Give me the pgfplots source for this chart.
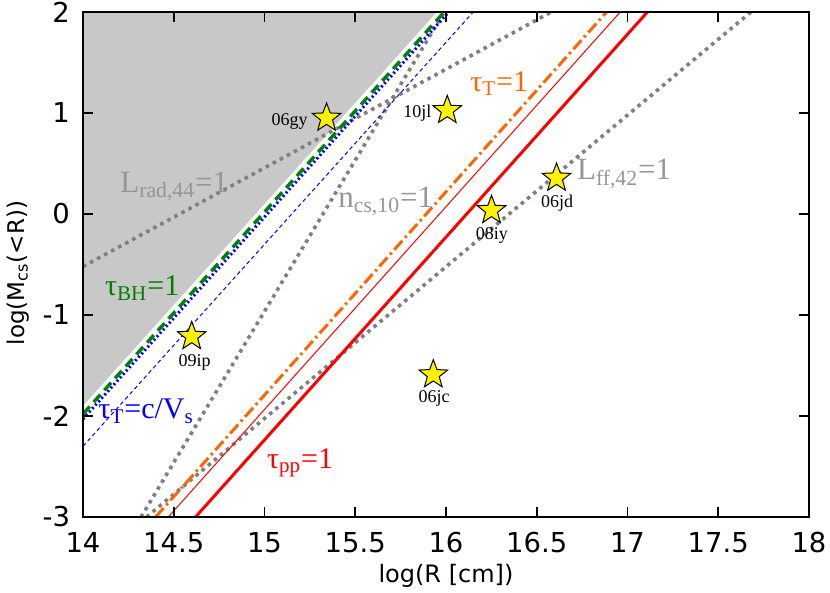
\documentclass[border=0pt]{standalone}
\usepackage{fontspec}
\setmainfont{DejaVu Sans}
\newfontfamily\tms{Liberation Serif}
\usepackage{pgfplots}
\pgfplotsset{compat=1.18}
\definecolor{shade}{RGB}{200,200,200}
\definecolor{dgreen}{RGB}{0,128,0}
\definecolor{orng}{RGB}{255,102,0}
\definecolor{lgray}{RGB}{128,128,128}
\definecolor{tgray}{RGB}{150,150,150}
\tikzset{sl/.style={font=\tms\fontsize{9}{10}\selectfont, inner sep=0pt},
  cl/.style={font=\tms\fontsize{15}{16}\selectfont, anchor=base west, inner sep=0pt},
  gl/.style={tgray, font=\tms\fontsize{15.5}{16}\selectfont, anchor=base west, inner sep=0pt}}
\pgfdeclareplotmark{fstar}{%
 \pgfpathmoveto{\pgfpointpolar{90}{\pgfplotmarksize}}%
 \pgfpathlineto{\pgfpointpolar{126}{0.42\pgfplotmarksize}}%
 \pgfpathlineto{\pgfpointpolar{162}{\pgfplotmarksize}}%
 \pgfpathlineto{\pgfpointpolar{198}{0.42\pgfplotmarksize}}%
 \pgfpathlineto{\pgfpointpolar{234}{\pgfplotmarksize}}%
 \pgfpathlineto{\pgfpointpolar{270}{0.42\pgfplotmarksize}}%
 \pgfpathlineto{\pgfpointpolar{306}{\pgfplotmarksize}}%
 \pgfpathlineto{\pgfpointpolar{342}{0.42\pgfplotmarksize}}%
 \pgfpathlineto{\pgfpointpolar{18}{\pgfplotmarksize}}%
 \pgfpathlineto{\pgfpointpolar{54}{0.42\pgfplotmarksize}}%
 \pgfpathclose
 \pgfusepathqfillstroke}
\begin{document}
\begin{tikzpicture}
\begin{axis}[
  scale only axis, width=363pt, height=252.5pt,
  xmin=14, xmax=18, ymin=-3, ymax=2,
  xtick={14,14.5,...,18}, ytick={-3,-2,...,2},
  tick align=inside, major tick length=5pt,
  tick style={black, line width=0.8pt},
  axis line style={line width=1pt},
  axis on top,
  /pgf/number format/assume math mode=true,
  /pgf/number format/fixed,
  every tick label/.append style={font=\fontsize{13.7}{16}\selectfont},
  xticklabel style={yshift=-4pt},
  yticklabel style={xshift=-3pt},
  xlabel={log(R [cm])}, ylabel={log(M\textsubscript{cs}(<R))},
  xlabel style={font=\fontsize{12}{14}\selectfont, yshift=1pt},
  ylabel style={font=\fontsize{11.5}{14}\selectfont, at={(ticklabel cs:0.483)}},
]
\addplot[fill=shade, draw=none] coordinates {(14,-1.90) (15.95,2) (14,2) (14,-1.90)};
% lines
\addplot[lgray, line width=1.8pt, dash pattern=on 1.8pt off 2.2pt] coordinates {(14,-0.52) (16.58,2)};
\addplot[lgray, line width=1.8pt, dash pattern=on 1.8pt off 2.2pt] coordinates {(14.32,-3) (15.99,2)};
\addplot[lgray, line width=1.8pt, dash pattern=on 1.8pt off 2.2pt] coordinates {(14.35,-3) (17.68,2)};
\addplot[blue, line width=0.5pt, dash pattern=on 2pt off 1.5pt] coordinates {(14,-2.30) (16.15,2)};
\addplot[blue, line width=1.5pt, dash pattern=on 1pt off 1.3pt] coordinates {(14,-2.03) (16.015,2)};
\addplot[dgreen, line width=1.7pt, dash pattern=on 5pt off 3pt] coordinates {(14,-1.98) (15.99,2)};
\addplot[orng, line width=1.5pt, dash pattern=on 6pt off 2pt on 1.2pt off 2pt] coordinates {(14.40,-3) (16.885,2)};
\addplot[red, line width=0.5pt] coordinates {(14.47,-3) (16.96,2)};
\addplot[red, line width=1.5pt] coordinates {(14.62,-3) (17.11,2)};
% stars
\addplot[only marks, mark=fstar, mark size=7.5pt, mark options={fill=yellow, draw=black, line width=0.5pt}] coordinates {
(15.342,0.950) (16.007,1.026) (16.609,0.356) (16.251,0.036) (14.599,-1.212) (15.930,-1.591)};
% star labels
\node[sl, anchor=base east] at (axis cs:15.24,0.874) {06gy};
\node[sl, anchor=base east] at (axis cs:15.921,0.953) {10jl};
\node[sl, anchor=base] at (axis cs:16.612,0.062) {06jd};
\node[sl, anchor=base] at (axis cs:16.253,-0.254) {08iy};
\node[sl, anchor=base] at (axis cs:14.615,-1.509) {09ip};
\node[sl, anchor=base] at (axis cs:15.934,-1.871) {06jc};
% curve labels
\node[gl] at (axis cs:14.204,0.211) {L\textsubscript{rad,44}=1};
\node[gl] at (axis cs:15.405,0.06) {n\textsubscript{cs,10}=1};
\node[gl] at (axis cs:16.72,0.34) {L\textsubscript{ff,42}=1};
\node[cl, orng] at (axis cs:16.132,1.214) {τ\textsubscript{T}=1};
\node[cl, dgreen] at (axis cs:14.12,-0.81) {τ\textsubscript{BH}=1};
\node[cl, blue] at (axis cs:14.083,-2.027) {τ\textsubscript{T}=c/V\textsubscript{s}};
\node[cl, red] at (axis cs:15.012,-2.515) {τ\textsubscript{pp}=1};
\end{axis}
\pgfresetboundingbox
\useasboundingbox (-41.5pt,-38pt) rectangle (373.5pt,258.5pt);
\end{tikzpicture}
\end{document}
